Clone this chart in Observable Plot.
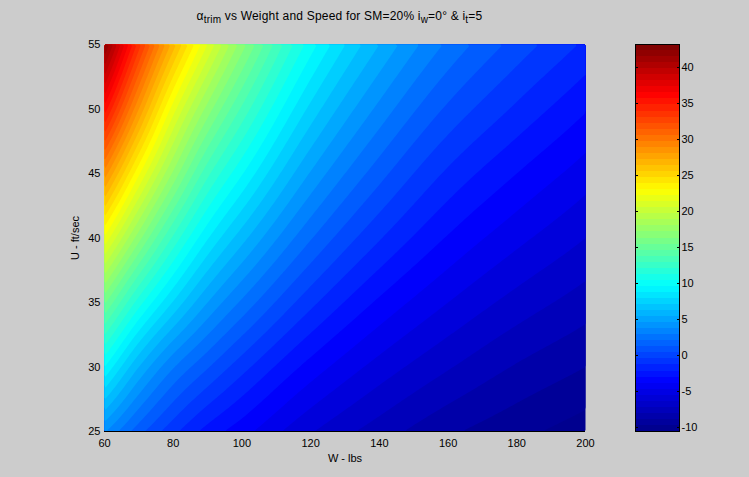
<!DOCTYPE html>
<html><head><meta charset="utf-8">
<script src="https://cdn.jsdelivr.net/npm/d3@7"></script>
<script src="https://cdn.jsdelivr.net/npm/@observablehq/plot@0.6"></script>
<style>
html,body{margin:0;padding:0;background:#cccccc;}
#fig{position:relative;width:749px;height:477px;background:#cccccc;font-family:'Liberation Sans',Arial,Helvetica,sans-serif;color:#000;overflow:hidden}
#title{position:absolute;left:99px;width:481px;top:9px;text-align:center;font-size:12px;letter-spacing:0.2px;line-height:14px;white-space:nowrap}
#title sub{font-size:10px;line-height:0}
#main{position:absolute;left:0;top:0}
#cbar{position:absolute;left:600px;top:0}
</style></head><body>
<div id="fig">
  <div id="title">α<sub>trim</sub> vs Weight and Speed for SM=20% i<sub>w</sub>=0° &amp; i<sub>t</sub>=5</div>
  <div id="main"></div>
  <div id="cbar"></div>
</div>
<script>
// Weight W (lbs) sample columns and speed U (ft/sec) sample rows
const weights = [60, 70, 80, 90, 100, 120, 140, 160, 180, 200];
const speeds = [25, 30, 35, 40, 45, 50, 55];
// alpha_trim (deg), one array per speed row (in weights order)
const alphaU25 = [4.1, 1.4, -0.7, -2.4, -3.6, -5.9, -7.5, -8.8, -9.7, -10.5];
const alphaU30 = [10.0, 6.0, 3.1, 1.1, -0.6, -3.4, -5.4, -6.9, -8.1, -9.0];
const alphaU35 = [16.2, 11.5, 7.9, 5.0, 2.8, -0.7, -3.2, -5.0, -6.4, -7.5];
const alphaU40 = [22.8, 17.4, 12.8, 9.1, 6.4, 2.1, -0.9, -3.1, -4.7, -6.0];
const alphaU45 = [29.6, 23.2, 17.8, 13.3, 10.1, 4.9, 1.4, -1.2, -3.0, -4.5];
const alphaU50 = [36.6, 29.0, 22.5, 17.6, 13.8, 7.7, 3.7, 0.8, -1.2, -2.9];
const alphaU55 = [43.2, 34.5, 27.5, 22.0, 17.5, 10.5, 6.0, 2.8, 0.6, -1.2];
// axis ticks
const xTicks = [60, 80, 100, 120, 140, 160, 180, 200];
const yTicks = [25, 30, 35, 40, 45, 50, 55];
const cbTicks = [-10, -5, 0, 5, 10, 15, 20, 25, 30, 35, 40];
const colorLimits = [-10.56, 43.2];

const rows = [alphaU25, alphaU30, alphaU35, alphaU40, alphaU45, alphaU50, alphaU55];

// monotone cubic (PCHIP) interpolant through the read samples, used to render smooth contours
function pchip(xs, ys) {
  const n = xs.length, h = [], d = [], m = new Array(n);
  for (let i = 0; i < n - 1; i++) { h[i] = xs[i + 1] - xs[i]; d[i] = (ys[i + 1] - ys[i]) / h[i]; }
  m[0] = d[0]; m[n - 1] = d[n - 2];
  for (let i = 1; i < n - 1; i++) {
    if (d[i - 1] * d[i] <= 0) m[i] = 0;
    else { const w1 = 2 * h[i] + h[i - 1], w2 = h[i] + 2 * h[i - 1]; m[i] = (w1 + w2) / (w1 / d[i - 1] + w2 / d[i]); }
  }
  return x => {
    let i = 0;
    while (i < n - 2 && x > xs[i + 1]) i++;
    const t = (x - xs[i]) / h[i], t2 = t * t, t3 = t2 * t;
    return (2 * t3 - 3 * t2 + 1) * ys[i] + (t3 - 2 * t2 + t) * h[i] * m[i] + (-2 * t3 + 3 * t2) * ys[i + 1] + (t3 - t2) * h[i] * m[i + 1];
  };
}
const rowFns = rows.map(r => pchip(weights, r));
const W0 = weights[0], W1 = weights[weights.length - 1];
const U0 = speeds[speeds.length - 1], U1 = speeds[0]; // top to bottom
const nx = 280, ny = 120;
const dense = [];
for (let r = 0; r < ny; r++) {
  const u = U0 + (r + 0.5) * (U1 - U0) / ny;
  for (let c = 0; c < nx; c++) {
    const w = W0 + (c + 0.5) * (W1 - W0) / nx;
    const col = rowFns.map(f => f(w));
    dense.push(pchip(speeds, col)(u));
  }
}

// jet colormap
const jetStops = [0, 0.125, 0.375, 0.625, 0.875, 1];
const jetColors = ["#00008f", "#0000ff", "#00ffff", "#ffff00", "#ff0000", "#800000"];
const span = colorLimits[1] - colorLimits[0];
const colorScale = {type: "linear", domain: jetStops.map(t => colorLimits[0] + t * span), range: jetColors, clamp: true, interpolate: "rgb"};
const levels = d3.range(-11, 44, 1);
const font = "'Liberation Sans', Arial, Helvetica, sans-serif";

const main = Plot.plot({
  width: 620, height: 477,
  marginLeft: 104, marginRight: 35, marginTop: 44, marginBottom: 46,
  style: {background: "transparent", fontSize: "11px", fontFamily: font, color: "black"},
  x: {domain: [W0, W1]},
  y: {domain: [U1, U0]},
  color: colorScale,
  marks: [
    Plot.contour(dense, {width: nx, height: ny, x1: W0, x2: W1, y1: U0, y2: U1, value: Plot.identity, fill: "value", thresholds: levels, stroke: "none"}),
    Plot.axisX({ticks: xTicks, tickSize: 0, tickPadding: 8, tickFormat: d => String(d), label: "W - lbs", labelAnchor: "center", labelOffset: 30, labelArrow: "none"}),
    Plot.axisY({ticks: yTicks, tickSize: 0, tickPadding: 4, tickFormat: d => String(d), label: "U - ft/sec", labelAnchor: "center", labelOffset: 33, labelArrow: "none"}),
    Plot.ruleY([U1], {stroke: "black"})
  ]
});
document.getElementById("main").append(main);

const steps = d3.range(64).map(i => ({
  lo: colorLimits[0] + i * span / 64,
  hi: colorLimits[0] + (i + 1) * span / 64,
  c: colorLimits[0] + i * span / 63
}));
const cbar = Plot.plot({
  width: 149, height: 477,
  marginLeft: 35, marginRight: 70, marginTop: 44, marginBottom: 46,
  style: {background: "transparent", fontSize: "11px", fontFamily: font, color: "black"},
  x: {domain: [0, 1], axis: null},
  y: {domain: colorLimits},
  color: colorScale,
  marks: [
    Plot.rect(steps, {x1: 0, x2: 1, y1: "lo", y2: "hi", fill: "c", shapeRendering: "crispEdges"}),
    Plot.axisY({anchor: "right", ticks: cbTicks, tickSize: -3, tickPadding: 5, tickFormat: d => String(d), label: null}),
    Plot.axisY({anchor: "left", ticks: cbTicks, tickSize: -3, tickFormat: () => "", label: null}),
    Plot.frame({stroke: "black"})
  ]
});
document.getElementById("cbar").append(cbar);
</script>
</body></html>
